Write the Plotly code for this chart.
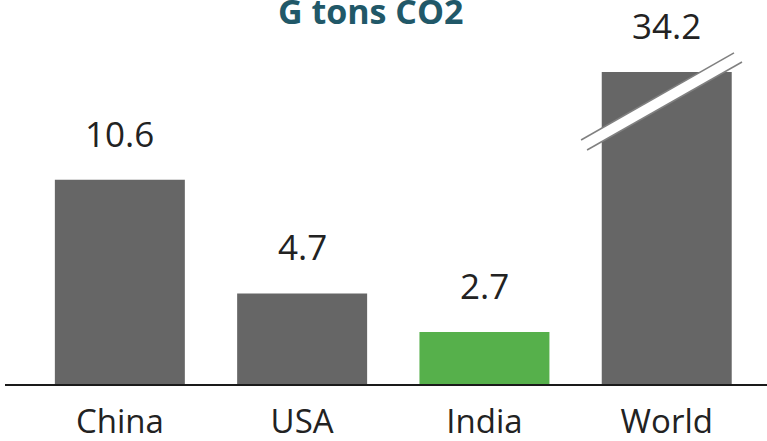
import plotly.graph_objects as go

# Annual CO2 emissions, gigatonnes
countries = ["China", "USA", "India", "World"]
emissions = [10.6, 4.7, 2.7, 34.2]
bar_colors = ["#666666", "#666666", "#56b04b", "#666666"]

# The value axis is broken: anything above y_top is cut off at the top edge
y_top = 16.2

fig = go.Figure()
fig.add_trace(go.Bar(
    x=countries,
    y=emissions,
    marker=dict(color=bar_colors, line=dict(width=0)),
    width=0.713,
    hoverinfo="skip",
))

# Value labels above each bar (clipped bars get their label at the break)
for c, v in zip(countries, emissions):
    fig.add_annotation(
        x=c, y=min(v, y_top), xref="x", yref="y",
        text=f"{v:.1f}", showarrow=False,
        yanchor="bottom", yshift=21,
        font=dict(family="Open Sans", size=35, color="#222222"),
    )

# Chart heading (paper coords are relative to the plot area)
fig.add_annotation(
    x=0.480, y=1.196, xref="paper", yref="paper",
    text="<b>G tons CO2</b>", showarrow=False,
    xanchor="center", yanchor="middle",
    font=dict(family="Open Sans", size=34, color="#215868"),
)

# Axis-break marker across the truncated bar: white band with grey edges
brk = countries.index("World")
ux0, uy0, ux1, uy1 = brk - 0.47, 0.782, brk + 0.369, 1.061
lx0, ly0, lx1, ly1 = brk - 0.437, 0.750, brk + 0.413, 1.032
fig.add_shape(
    type="path", xref="x", yref="paper",
    path=f"M {ux0},{uy0} L {ux1},{uy1} L {lx1},{ly1} L {lx0},{ly0} Z",
    fillcolor="white", line=dict(width=0), layer="above",
)
for x0, y0, x1, y1 in [(ux0, uy0, ux1, uy1), (lx0, ly0, lx1, ly1)]:
    fig.add_shape(type="line", xref="x", yref="paper",
                  x0=x0, y0=y0, x1=x1, y1=y1,
                  line=dict(color="#808080", width=1.5), layer="above")

fig.update_layout(
    width=767, height=441,
    margin=dict(l=5, r=0, t=72, b=57),
    paper_bgcolor="white", plot_bgcolor="white",
    showlegend=False,
    xaxis=dict(
        range=[-0.63, 3.55], automargin=False,
        showline=True, linecolor="#1a1a1a", linewidth=2,
        showgrid=False, zeroline=False, ticks="",
        ticklabelstandoff=7,
        tickfont=dict(family="Open Sans", size=33, color="#222222"),
    ),
    yaxis=dict(
        range=[0, y_top], visible=False, showgrid=False, zeroline=False,
    ),
)

fig.write_html("out.html")
